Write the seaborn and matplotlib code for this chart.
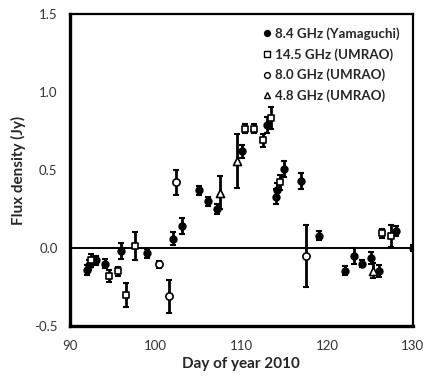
import matplotlib
matplotlib.use("Agg")
import matplotlib.pyplot as plt
import seaborn as sns
import pandas as pd
from matplotlib.lines import Line2D

# 8.4 GHz (Yamaguchi)
yam_day = [92.0, 92.2, 93.0, 94.1, 96.0, 99.0, 102.0, 103.1, 105.0, 106.1, 107.1, 110.1,
           113.0, 114.0, 114.2, 115.0, 117.0, 119.0, 122.1, 123.1, 124.1, 125.1, 126.1, 128.0, 130.0]
yam_flux = [-0.14, -0.11, -0.08, -0.10, -0.02, -0.035, 0.06, 0.14, 0.37, 0.30, 0.25, 0.62,
            0.79, 0.33, 0.375, 0.505, 0.43, 0.08, -0.145, -0.05, -0.10, -0.065, -0.148, 0.11, 0.0]
yam_err = [0.03, 0.03, 0.03, 0.03, 0.05, 0.03, 0.04, 0.05, 0.03, 0.03, 0.03, 0.04,
           0.05, 0.05, 0.04, 0.05, 0.05, 0.03, 0.03, 0.05, 0.02, 0.04, 0.04, 0.03, 0.02]

# 14.5 GHz (UMRAO)
u145_day = [92.5, 94.5, 95.6, 96.5, 97.6, 110.45, 111.5, 112.5, 113.4, 114.5, 126.35, 127.5]
u145_flux = [-0.08, -0.18, -0.15, -0.30, 0.015, 0.765, 0.765, 0.69, 0.835, 0.42, 0.095, 0.075]
u145_err = [0.04, 0.04, 0.03, 0.075, 0.09, 0.03, 0.03, 0.04, 0.07, 0.05, 0.03, 0.07]

# 8.0 GHz (UMRAO)
u80_day = [100.4, 101.5, 102.4, 117.5]
u80_flux = [-0.105, -0.31, 0.42, -0.05]
u80_err = [0.02, 0.105, 0.083, 0.2]

# 4.8 GHz (UMRAO)
u48_day = [107.5, 109.5, 125.35]
u48_flux = [0.355, 0.56, -0.145]
u48_err = [0.107, 0.173, 0.05]

labels = ["8.4 GHz (Yamaguchi)", "14.5 GHz (UMRAO)", "8.0 GHz (UMRAO)", "4.8 GHz (UMRAO)"]
x_ticks = [90, 100, 110, 120, 130]
y_ticks = [-0.5, 0.0, 0.5, 1.0, 1.5]

sns.set_theme(style="white")
plt.rcParams['font.family'] = ['Lato', 'DejaVu Sans']

fig = plt.figure(figsize=(4.23, 3.79), dpi=100)
ax = fig.add_axes([0.1655, 0.1398, 0.8105, 0.8232])

series = [
    (yam_day, yam_flux, yam_err, 'o', 'black', 4.8),
    (u145_day, u145_flux, u145_err, 's', 'white', 5.0),
    (u80_day, u80_flux, u80_err, 'o', 'white', 5.2),
    (u48_day, u48_flux, u48_err, '^', 'white', 5.8),
]

ax.axhline(0, color='black', lw=1.4, zorder=1)

handles = []
for (d, f, e, m, fc, ms), lab in zip(series, labels):
    ax.errorbar(d, f, yerr=e, fmt='none', ecolor='black', elinewidth=2.0,
                capsize=2, capthick=1.5, zorder=2)
    df = pd.DataFrame({"day": d, "flux": f})
    sns.scatterplot(data=df, x="day", y="flux", ax=ax, marker=m, s=ms**2,
                    color=fc, edgecolor='black', linewidth=1.2, zorder=3, legend=False)
    handles.append(Line2D([], [], marker=m, linestyle='none', markersize=4.2,
                          markerfacecolor=fc, markeredgecolor='black', markeredgewidth=1.0))

ax.set_xlim(90, 130)
ax.set_ylim(-0.5, 1.5)
ax.set_xticks(x_ticks)
ax.set_yticks(y_ticks)
ax.set_yticklabels([f"{v:.1f}" for v in y_ticks])
ax.tick_params(direction='in', length=4, width=2, labelsize=9.5, colors='black',
               labelcolor='#333333', pad=9)
ax.tick_params(axis='x', pad=10)
ax.set_xlabel("Day of year 2010", fontsize=11, fontweight='bold', labelpad=4)
ax.set_ylabel("Flux density (Jy)", fontsize=11, fontweight='bold', labelpad=6)

for side in ['left', 'bottom']:
    ax.spines[side].set_linewidth(2.4)
    ax.spines[side].set_color('black')
for side in ['top', 'right']:
    ax.spines[side].set_linewidth(1.6)
    ax.spines[side].set_color('black')

leg = ax.legend(handles, labels, loc='upper right', frameon=False,
                prop={'weight': 'bold', 'size': 9.6}, handletextpad=0.2,
                labelspacing=0.6, borderaxespad=0.6, handlelength=0.8)

fig.savefig("out.png", dpi=100)
